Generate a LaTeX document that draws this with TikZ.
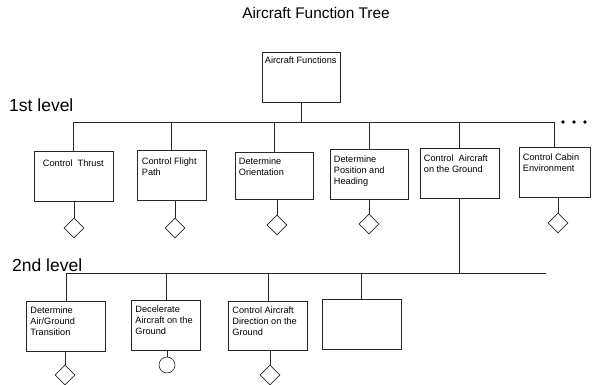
\documentclass[tikz,border=0pt]{standalone}
\usepackage{fontspec}
\setmainfont{Liberation Sans}
\usetikzlibrary{shapes.geometric}
\begin{document}
\begin{tikzpicture}[x=1pt,y=-1pt,
  ln/.style={line width=0.6pt, draw=black!85},
  box/.style={ln, rectangle, minimum width=#1, minimum height=50pt, inner sep=0pt},
  box/.default=79pt,
  txt/.style={anchor=north west, inner sep=0pt, align=left, font=\fontsize{9.2}{11}\selectfont},
  dia/.style={ln, diamond, minimum width=20pt, minimum height=20pt, inner sep=0pt},
  circ/.style={ln, circle, minimum size=16pt, inner sep=0pt},
  lvl/.style={anchor=base west, inner sep=0pt, font=\fontsize{17.5}{20}\selectfont}]
\useasboundingbox (0,0) rectangle (592,385);

% title and level labels
\node[anchor=base, inner sep=0pt, font=\fontsize{15.4}{18}\selectfont] (title) at (316,19) {Aircraft Function Tree};
\node[lvl] (l1) at (9,112) {1st level};
\node[lvl] (l2) at (12,271) {2nd level};

% root
\node[box=78pt] (top) at (301,77) {};
\node[txt] (ttop) at ([shift={(3pt,-5pt)}]top.north west) {Aircraft Functions};

% first level boxes
\node[box=79pt] (b1) at (73.5,176) {};
\node[box=69pt] (b2) at (171.5,175) {};
\node[box=78pt, minimum height=47pt] (b3) at (274,175.5) {};
\node[box=78pt] (b4) at (369,174) {};
\node[box=79pt] (b5) at (459.5,173) {};
\node[box=71pt] (b6) at (554.5,172) {};

\node[txt] (t1) at ([shift={(9pt,-9pt)}]b1.north west) {Control\ \ Thrust};
\node[txt] (t2) at ([shift={(5pt,-8pt)}]b2.north west) {Control Flight\\Path};
\node[txt] (t3) at ([shift={(4pt,-6pt)}]b3.north west) {Determine\\Orientation};
\node[txt] (t4) at ([shift={(4pt,-7pt)}]b4.north west) {Determine\\Position and\\Heading};
\node[txt] (t5) at ([shift={(4pt,-7pt)}]b5.north west) {Control\ \ Aircraft\\on the Ground};
\node[txt] (t6) at ([shift={(4pt,-7pt)}]b6.north west) {Control Cabin\\Environment};

% second level boxes
\node[box=79pt] (b7) at (66,326) {};
\node[box=69pt] (b8) at (166,325) {};
\node[box=79pt, minimum height=49pt] (b9) at (268,325.5) {};
\node[box=79pt] (b10) at (361.5,324) {};

\node[txt] (t7) at ([shift={(4pt,-6pt)}]b7.north west) {Determine\\Air/Ground\\Transition};
\node[txt] (t8) at ([shift={(4pt,-6pt)}]b8.north west) {Decelerate\\Aircraft on the\\Ground};
\node[txt] (t9) at ([shift={(4pt,-6pt)}]b9.north west) {Control Aircraft\\Direction on the\\Ground};

% diamonds / circle
\node[dia] (d1) at (74,228) {};
\node[dia] (d2) at (175,228) {};
\node[dia] (d3) at (277,225) {};
\node[dia] (d4) at (369,224) {};
\node[dia] (d6) at (558,223) {};
\node[dia] (d7) at (65,375) {};
\node[circ] (c8) at (167,365) {};
\node[dia] (d9) at (270,375) {};

% buses
\coordinate (bus1) at (0,122);
\coordinate (bus2) at (0,273);
\coordinate (bus2end) at (546,273);

\draw[ln] (top.south) -- (top.south |- bus1);
\draw[ln] (b1.north) -- (b1.north |- bus1) -- (b6.north |- bus1) -- (b6.north);
\foreach \b in {b2,b3,b4,b5} \draw[ln] (\b.north) -- (\b.north |- bus1);

\draw[ln] (b5.south) -- (b5.south |- bus2);
\draw[ln] (b7.north) -- (b7.north |- bus2) -- (bus2end);
\foreach \b in {b8,b9,b10} \draw[ln] (\b.north) -- (\b.north |- bus2);

% stems
\foreach \b/\d in {b1/d1,b2/d2,b3/d3,b4/d4,b6/d6,b7/d7,b8/c8,b9/d9}
  \draw[ln] (\b.south -| \d.center) -- (\d.north);

% ellipsis dots
\foreach \x in {563,574,585} \fill (\x,122) circle (1.8pt);
\end{tikzpicture}
\end{document}
